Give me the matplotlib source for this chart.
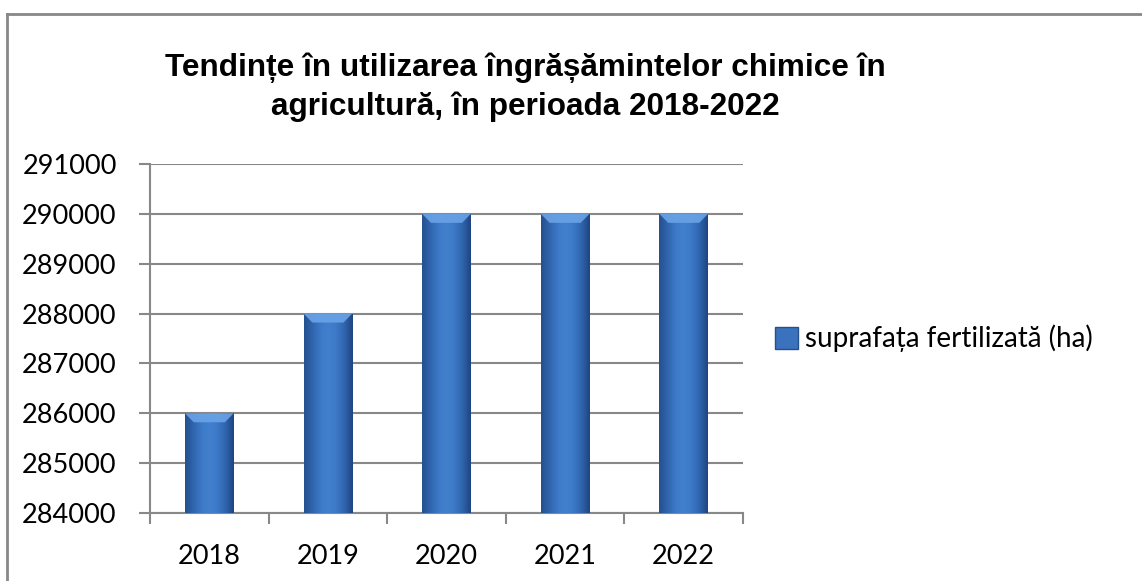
import matplotlib
matplotlib.use("Agg")
import matplotlib.pyplot as plt
import numpy as np
from matplotlib.patches import Rectangle, Polygon
from matplotlib.colors import LinearSegmentedColormap

years = ["2018", "2019", "2020", "2021", "2022"]
values = [286000, 288000, 290000, 290000, 290000]
series_name = "suprafața fertilizată (ha)"
title = "Tendințe în utilizarea îngrășămintelor chimice în\nagricultură, în perioada 2018-2022"
y_ticks = [284000, 285000, 286000, 287000, 288000, 289000, 290000, 291000]

W, H = 1142, 581
fig = plt.figure(figsize=(W / 100, H / 100), dpi=100)
fig.patch.set_facecolor("white")

# outer chart frame
fig.add_artist(plt.Line2D([6.5 / W, 6.5 / W], [0, 1 - 13.5 / H], transform=fig.transFigure,
                          color="#888888", lw=2))
fig.add_artist(plt.Line2D([6.5 / W, 1], [1 - 13.5 / H, 1 - 13.5 / H], transform=fig.transFigure,
                          color="#888888", lw=2))

ax = fig.add_axes([150 / W, 1 - 513 / H, (743 - 150) / W, (513 - 164) / H])
ax.set_xlim(-0.5, len(years) - 0.5)
ax.set_ylim(y_ticks[0], y_ticks[-1])

bw = 0.41
x = np.arange(len(years))
bars = ax.bar(x, [v - y_ticks[0] for v in values], bottom=y_ticks[0], width=bw,
              color="#3A72BE", zorder=2, label=series_name)

cmap = LinearSegmentedColormap.from_list(
    "barg", ["#24508E", "#2F64AC", "#3C78C6", "#4280CE", "#3C78C6", "#2F64AC", "#1F4480"])
grad = np.linspace(0, 1, 256).reshape(1, -1)
for b in bars:
    x0, y0 = b.get_x(), b.get_y()
    w, h = b.get_width(), b.get_height()
    im = ax.imshow(grad, extent=[x0, x0 + w, y0, y0 + h], aspect="auto", cmap=cmap,
                   zorder=3, interpolation="bicubic")
    im.set_clip_path(b)
    cap = 180
    ax.add_patch(Polygon([[x0, y0 + h], [x0 + w, y0 + h], [x0 + w * 0.82, y0 + h - cap],
                          [x0 + w * 0.18, y0 + h - cap]], closed=True,
                         facecolor="#6AA3E6", edgecolor="none", zorder=4, alpha=0.9))

ax.set_yticks(y_ticks)
ax.set_yticklabels([str(t) for t in y_ticks])
ax.set_xticks(x)
ax.set_xticklabels(years)
ax.set_xticks(np.arange(-0.5, len(years), 1), minor=True)
ax.tick_params(axis="x", which="major", length=0, pad=22)
ax.tick_params(axis="x", which="minor", length=8, width=1.5, color="#888888")
ax.tick_params(axis="y", length=8, width=1.5, color="#888888", pad=16)
for lab in ax.get_xticklabels() + ax.get_yticklabels():
    lab.set_fontfamily("Lato")
    lab.set_fontsize(19.5)
    lab.set_color("black")

ax.grid(axis="y", color="#888888", lw=1.5, zorder=1)
ax.set_axisbelow(True)
for s in ["top", "right"]:
    ax.spines[s].set_visible(False)
for s in ["left", "bottom"]:
    ax.spines[s].set_color("#888888")
    ax.spines[s].set_linewidth(1.5)

fig.text(525 / W, 1 - 87 / H, title, ha="center", va="center", fontsize=22.7,
         fontweight="bold", family="Liberation Sans", linespacing=1.38)

handle = Rectangle((0, 0), 1, 1, facecolor="#3A72BE", edgecolor="#24508E")
leg = ax.legend([handle], [series_name], loc="center left", bbox_to_anchor=(1.035, 0.5),
                frameon=False, handlelength=0.85, handleheight=0.85, handletextpad=0.25,
                borderaxespad=0, prop={"family": "Lato", "size": 20})

fig.savefig("out.png", dpi=100)
